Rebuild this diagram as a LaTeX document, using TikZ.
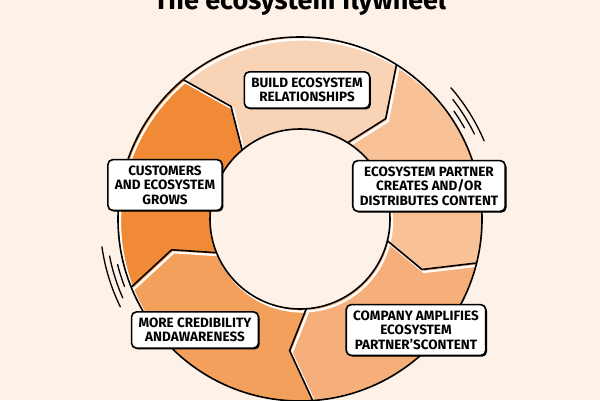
\documentclass[tikz,border=0pt]{standalone}
\usepackage{fontspec}
\setmainfont{Fira Sans}
\usetikzlibrary{shadows}

\definecolor{bgcream}{RGB}{253,241,232}
\definecolor{peacha}{RGB}{249,211,182}
\definecolor{peachb}{RGB}{248,193,150}
\definecolor{peachc}{RGB}{246,175,122}
\definecolor{peachd}{RGB}{243,160,92}
\definecolor{peache}{RGB}{240,138,55}

\tikzset{
  stage/.style={draw, line width=1.6pt, fill=white, rounded corners=5pt, align=center,
    font=\bfseries\fontsize{13.5}{14.5}\selectfont, inner xsep=7pt, inner ysep=6pt,
    drop shadow={shadow xshift=1.3pt, shadow yshift=-1.3pt, opacity=1, fill=black}},
  gap/.style={white, line width=2.2pt},
  rim/.style={line width=1.6pt},
  whoosh/.style={line width=1.3pt, line cap=round}
}

\begin{document}
\begin{tikzpicture}[x=1pt,y=1pt]
                    \fill[bgcream] (0,0) rectangle (600,400);
                    \useasboundingbox (0,0) rectangle (600,400);
                    \node[font=\bfseries\fontsize{27}{30}\selectfont, anchor=base] (title) at (300,390) {The ecosystem flywheel};
                    \begin{scope}[shift={(300,181)}]
                        \foreach \a/\c in {202/peache,130/peacha,58/peachb,-14/peachc,-86/peachd}
                            {\fill[\c] (\a:182) arc[start angle=\a, end angle=\a-72, radius=182] -- ({\a-80.5}:132) -- ({\a-72}:90) arc[start angle=\a-72, end angle=\a, radius=90] -- ({\a-8.5}:132) -- cycle;}
                        \begin{scope}[even odd rule]
                            \clip (0,0) circle[radius=182] (0,0) circle[radius=90];
                            \begin{scope}[shift={(2,-2.5)}]
                                \draw[gap] (0,0) circle[radius=182] (0,0) circle[radius=90];
                                \foreach \a in {202,130,58,-14,-86}
                                    {\draw[gap] (\a:182) -- ({\a-8.5}:132) -- (\a:90);}
                            \end{scope}
                        \end{scope}
                        \draw[rim] (0,0) circle[radius=182] (0,0) circle[radius=90];
                        \foreach \a in {202,130,58,-14,-86}
                            {\draw[rim] (\a:182) -- ({\a-8.5}:132) -- (\a:90);}
                        \foreach \r/\s/\e in {188/29/35,194/26/38,200/23/41}
                            {\draw[whoosh] (\s:\r) arc[start angle=\s, end angle=\e, radius=\r];}
                        \foreach \r/\s/\e in {188/194/201,194/191/204,200/188/206}
                            {\draw[whoosh] (\s:\r) arc[start angle=\s, end angle=\e, radius=\r];}
                    \end{scope}
                    \node[stage] (build) at (307,310) {BUILD ECOSYSTEM\\RELATIONSHIPS};
                    \node[stage] (creates) at (429,214) {ECOSYSTEM PARTNER\\CREATES AND/OR\\DISTRIBUTES CONTENT};
                    \node[stage] (amplify) at (416,70) {COMPANY AMPLIFIES\\ECOSYSTEM\\PARTNER'SCONTENT};
                    \node[stage] (credibility) at (195,70) {MORE CREDIBILITY\\ANDAWARENESS};
                    \node[stage] (grows) at (165,215) {CUSTOMERS\\AND ECOSYSTEM\\GROWS};
                \end{tikzpicture}
\end{document}
